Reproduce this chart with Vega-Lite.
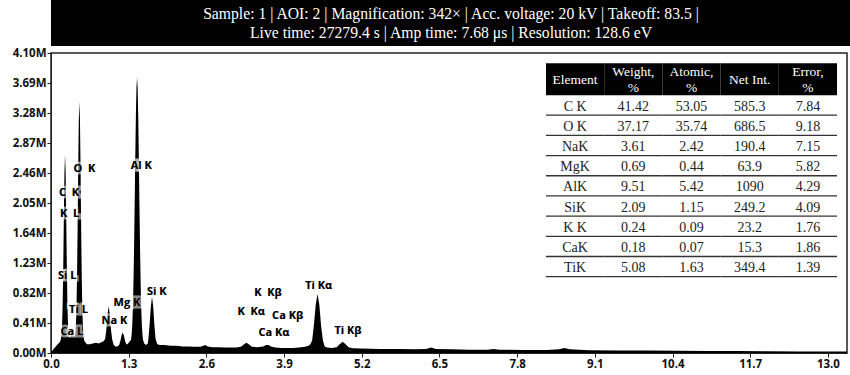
{
  "$schema": "https://vega.github.io/schema/vega-lite/v6.json",
  "padding": 0,
  "background": "white",
  "bounds": "flush",
  "spacing": 7,
  "config": {"view": {"stroke": null}},
  "datasets": {
    "header": [
      {"text": "Sample: 1 | AOI: 2 | Magnification: 342× | Acc. voltage: 20 kV | Takeoff: 83.5 |\nLive time: 27279.4 s | Amp time: 7.68 μs | Resolution: 128.6 eV"}
    ],
    "spectrum": [
      {"e": 0.00, "c": 0.00}, {"e": 0.02, "c": 0.03}, {"e": 0.05, "c": 0.06}, {"e": 0.08, "c": 0.09},
      {"e": 0.11, "c": 0.12}, {"e": 0.14, "c": 0.14}, {"e": 0.16, "c": 0.17}, {"e": 0.175, "c": 0.24},
      {"e": 0.185, "c": 0.37}, {"e": 0.195, "c": 0.66}, {"e": 0.205, "c": 1.18}, {"e": 0.215, "c": 1.85},
      {"e": 0.225, "c": 2.47}, {"e": 0.235, "c": 2.71}, {"e": 0.245, "c": 2.47}, {"e": 0.255, "c": 1.85},
      {"e": 0.265, "c": 1.18}, {"e": 0.275, "c": 0.66}, {"e": 0.285, "c": 0.37}, {"e": 0.295, "c": 0.26},
      {"e": 0.31, "c": 0.22}, {"e": 0.33, "c": 0.22}, {"e": 0.35, "c": 0.25}, {"e": 0.37, "c": 0.22},
      {"e": 0.39, "c": 0.23}, {"e": 0.405, "c": 0.25}, {"e": 0.415, "c": 0.34}, {"e": 0.425, "c": 0.57},
      {"e": 0.435, "c": 1.01}, {"e": 0.445, "c": 1.68}, {"e": 0.455, "c": 2.49}, {"e": 0.465, "c": 3.17},
      {"e": 0.475, "c": 3.44}, {"e": 0.485, "c": 3.17}, {"e": 0.495, "c": 2.49}, {"e": 0.505, "c": 1.68},
      {"e": 0.515, "c": 1.01}, {"e": 0.525, "c": 0.57}, {"e": 0.535, "c": 0.34}, {"e": 0.545, "c": 0.22},
      {"e": 0.56, "c": 0.16}, {"e": 0.60, "c": 0.12}, {"e": 0.65, "c": 0.12}, {"e": 0.70, "c": 0.13},
      {"e": 0.75, "c": 0.14}, {"e": 0.80, "c": 0.13}, {"e": 0.85, "c": 0.15}, {"e": 0.88, "c": 0.16},
      {"e": 0.905, "c": 0.19}, {"e": 0.925, "c": 0.31}, {"e": 0.945, "c": 0.52}, {"e": 0.965, "c": 0.64},
      {"e": 0.985, "c": 0.52}, {"e": 1.005, "c": 0.31}, {"e": 1.025, "c": 0.18}, {"e": 1.05, "c": 0.11},
      {"e": 1.08, "c": 0.09}, {"e": 1.11, "c": 0.09}, {"e": 1.14, "c": 0.11}, {"e": 1.16, "c": 0.16},
      {"e": 1.18, "c": 0.24}, {"e": 1.20, "c": 0.28}, {"e": 1.22, "c": 0.24}, {"e": 1.24, "c": 0.16},
      {"e": 1.26, "c": 0.12}, {"e": 1.28, "c": 0.12}, {"e": 1.30, "c": 0.14}, {"e": 1.34, "c": 0.18},
      {"e": 1.35, "c": 0.26}, {"e": 1.36, "c": 0.39}, {"e": 1.37, "c": 0.61}, {"e": 1.38, "c": 0.96},
      {"e": 1.39, "c": 1.44}, {"e": 1.40, "c": 2.02}, {"e": 1.41, "c": 2.65}, {"e": 1.42, "c": 3.22},
      {"e": 1.43, "c": 3.62}, {"e": 1.44, "c": 3.77}, {"e": 1.45, "c": 3.62}, {"e": 1.46, "c": 3.22},
      {"e": 1.47, "c": 2.65}, {"e": 1.48, "c": 2.02}, {"e": 1.49, "c": 1.44}, {"e": 1.50, "c": 0.96},
      {"e": 1.51, "c": 0.61}, {"e": 1.52, "c": 0.39}, {"e": 1.53, "c": 0.26}, {"e": 1.54, "c": 0.18},
      {"e": 1.56, "c": 0.13}, {"e": 1.59, "c": 0.11}, {"e": 1.62, "c": 0.13}, {"e": 1.63, "c": 0.19},
      {"e": 1.65, "c": 0.39}, {"e": 1.67, "c": 0.63}, {"e": 1.69, "c": 0.77}, {"e": 1.71, "c": 0.64},
      {"e": 1.73, "c": 0.38}, {"e": 1.75, "c": 0.19}, {"e": 1.78, "c": 0.12}, {"e": 1.82, "c": 0.11},
      {"e": 1.90, "c": 0.11}, {"e": 2.00, "c": 0.10}, {"e": 2.10, "c": 0.10}, {"e": 2.20, "c": 0.09},
      {"e": 2.30, "c": 0.09}, {"e": 2.40, "c": 0.085}, {"e": 2.50, "c": 0.085}, {"e": 2.55, "c": 0.10},
      {"e": 2.58, "c": 0.11}, {"e": 2.62, "c": 0.09}, {"e": 2.70, "c": 0.08}, {"e": 2.80, "c": 0.08},
      {"e": 2.90, "c": 0.075}, {"e": 3.00, "c": 0.075}, {"e": 3.10, "c": 0.075}, {"e": 3.18, "c": 0.085},
      {"e": 3.23, "c": 0.12}, {"e": 3.27, "c": 0.14}, {"e": 3.31, "c": 0.12}, {"e": 3.36, "c": 0.085},
      {"e": 3.45, "c": 0.08}, {"e": 3.55, "c": 0.09}, {"e": 3.60, "c": 0.11}, {"e": 3.64, "c": 0.11},
      {"e": 3.68, "c": 0.09}, {"e": 3.75, "c": 0.075}, {"e": 3.85, "c": 0.07}, {"e": 3.95, "c": 0.07},
      {"e": 4.05, "c": 0.07}, {"e": 4.15, "c": 0.075}, {"e": 4.25, "c": 0.085}, {"e": 4.31, "c": 0.10},
      {"e": 4.34, "c": 0.12}, {"e": 4.37, "c": 0.17}, {"e": 4.40, "c": 0.39}, {"e": 4.43, "c": 0.66},
      {"e": 4.46, "c": 0.81}, {"e": 4.49, "c": 0.66}, {"e": 4.52, "c": 0.37}, {"e": 4.55, "c": 0.17},
      {"e": 4.58, "c": 0.09}, {"e": 4.62, "c": 0.075}, {"e": 4.70, "c": 0.07}, {"e": 4.78, "c": 0.08},
      {"e": 4.83, "c": 0.12}, {"e": 4.88, "c": 0.155}, {"e": 4.93, "c": 0.12}, {"e": 4.98, "c": 0.08},
      {"e": 5.05, "c": 0.065}, {"e": 5.20, "c": 0.06}, {"e": 5.50, "c": 0.055}, {"e": 5.80, "c": 0.055},
      {"e": 6.10, "c": 0.05}, {"e": 6.28, "c": 0.055}, {"e": 6.36, "c": 0.075}, {"e": 6.44, "c": 0.055},
      {"e": 6.70, "c": 0.05}, {"e": 7.00, "c": 0.045}, {"e": 7.30, "c": 0.045}, {"e": 7.41, "c": 0.055},
      {"e": 7.50, "c": 0.045}, {"e": 7.90, "c": 0.042}, {"e": 8.30, "c": 0.04}, {"e": 8.50, "c": 0.05},
      {"e": 8.59, "c": 0.07}, {"e": 8.68, "c": 0.05}, {"e": 9.00, "c": 0.038}, {"e": 9.50, "c": 0.035},
      {"e": 10.0, "c": 0.033}, {"e": 10.5, "c": 0.03}, {"e": 11.0, "c": 0.028}, {"e": 11.5, "c": 0.026},
      {"e": 12.0, "c": 0.024}, {"e": 12.5, "c": 0.022}, {"e": 13.0, "c": 0.02}, {"e": 13.32, "c": 0.02}
    ],
    "labels": [
      {"label": "O \u00a0K", "e": 0.56, "c": 2.52},
      {"label": "C \u00a0K", "e": 0.30, "c": 2.18},
      {"label": "K \u00a0L", "e": 0.31, "c": 1.90},
      {"label": "Si L", "e": 0.27, "c": 1.05},
      {"label": "Ti L", "e": 0.46, "c": 0.59},
      {"label": "Ca L", "e": 0.35, "c": 0.29},
      {"label": "Na K", "e": 1.06, "c": 0.44},
      {"label": "Mg K", "e": 1.27, "c": 0.68},
      {"label": "Al K", "e": 1.51, "c": 2.56},
      {"label": "Si K", "e": 1.77, "c": 0.83},
      {"label": "K \u00a0Kβ", "e": 3.63, "c": 0.82},
      {"label": "K \u00a0Kα", "e": 3.35, "c": 0.56},
      {"label": "Ca Kβ", "e": 3.96, "c": 0.51},
      {"label": "Ca Kα", "e": 3.73, "c": 0.28},
      {"label": "Ti Kα", "e": 4.48, "c": 0.91},
      {"label": "Ti Kβ", "e": 4.97, "c": 0.30}
    ],
    "tableHeader": [
      {"col": "Element", "row": "hdr", "label": "Element", "lines": 1},
      {"col": "Weight", "row": "hdr", "label": "Weight,\n%", "lines": 2},
      {"col": "Atomic", "row": "hdr", "label": "Atomic,\n%", "lines": 2},
      {"col": "NetInt", "row": "hdr", "label": "Net Int.", "lines": 1},
      {"col": "Error", "row": "hdr", "label": "Error,\n%", "lines": 2}
    ],
    "table": [
      {"Element": "C K", "Weight": "41.42", "Atomic": "53.05", "NetInt": "585.3", "Error": "7.84"},
      {"Element": "O K", "Weight": "37.17", "Atomic": "35.74", "NetInt": "686.5", "Error": "9.18"},
      {"Element": "NaK", "Weight": "3.61", "Atomic": "2.42", "NetInt": "190.4", "Error": "7.15"},
      {"Element": "MgK", "Weight": "0.69", "Atomic": "0.44", "NetInt": "63.9", "Error": "5.82"},
      {"Element": "AlK", "Weight": "9.51", "Atomic": "5.42", "NetInt": "1090", "Error": "4.29"},
      {"Element": "SiK", "Weight": "2.09", "Atomic": "1.15", "NetInt": "249.2", "Error": "4.09"},
      {"Element": "K K", "Weight": "0.24", "Atomic": "0.09", "NetInt": "23.2", "Error": "1.76"},
      {"Element": "CaK", "Weight": "0.18", "Atomic": "0.07", "NetInt": "15.3", "Error": "1.86"},
      {"Element": "TiK", "Weight": "5.08", "Atomic": "1.63", "NetInt": "349.4", "Error": "1.39"}
    ]
  },
  "vconcat": [
    {
      "width": 800,
      "height": 46,
      "view": {"fill": "black", "stroke": null},
      "data": {"name": "header"},
      "mark": {"type": "text", "color": "white", "font": "Liberation Serif", "fontSize": 15.7, "lineBreak": "\n", "lineHeight": 19, "baseline": "middle", "align": "center", "dy": -9},
      "encoding": {"text": {"field": "text", "type": "nominal"}}
    },
    {
      "width": 796,
      "height": 300,
      "view": {"stroke": "#222", "strokeWidth": 1.5},
      "layer": [
        {
          "layer": [
            {
              "data": {"name": "spectrum"},
              "mark": {"type": "area", "color": "black", "interpolate": "linear"},
              "encoding": {
                "x": {"field": "e", "type": "quantitative",
                  "scale": {"domain": [0, 13.32], "nice": false, "zero": false},
                  "axis": {"title": null, "values": [0, 1.3, 2.6, 3.9, 5.2, 6.5, 7.8, 9.1, 10.4, 11.7, 13.0], "tickCount": 20, "format": ".1f", "grid": false, "tickSize": 4, "tickColor": "#222", "domainColor": "#222", "labelFont": "Open Sans", "labelFontWeight": "bold", "labelFontSize": 11.5, "labelColor": "#111", "labelPadding": 1, "labelOverlap": false, "labelFlush": false}},
                "y": {"field": "c", "type": "quantitative",
                  "scale": {"domain": [0, 4.1], "nice": false},
                  "axis": {"title": null, "values": [0, 0.41, 0.82, 1.23, 1.64, 2.05, 2.46, 2.87, 3.28, 3.69, 4.1], "tickCount": 20, "labelExpr": "format(datum.value, '.2f') + 'M'", "grid": false, "tickSize": 4, "tickColor": "#222", "domainColor": "#222", "labelFont": "Open Sans", "labelFontWeight": "bold", "labelFontSize": 11.5, "labelColor": "#111", "labelPadding": 1, "minExtent": 50, "labelOverlap": false, "labelFlush": false}}
              }
            },
            {
              "data": {"name": "labels"},
              "mark": {"type": "text", "font": "Open Sans", "fontWeight": "bold", "fontSize": 11, "color": "black", "stroke": "white", "strokeWidth": 5, "strokeOpacity": 0.55, "baseline": "middle", "align": "center"},
              "encoding": {
                "x": {"field": "e", "type": "quantitative"},
                "y": {"field": "c", "type": "quantitative"},
                "text": {"field": "label", "type": "nominal"}
              }
            },
            {
              "data": {"name": "labels"},
              "mark": {"type": "text", "font": "Open Sans", "fontWeight": "bold", "fontSize": 11, "color": "black", "baseline": "middle", "align": "center"},
              "encoding": {
                "x": {"field": "e", "type": "quantitative"},
                "y": {"field": "c", "type": "quantitative"},
                "text": {"field": "label", "type": "nominal"}
              }
            }
          ]
        },
        {
          "layer": [
            {
              "data": {"name": "tableHeader"},
              "mark": {"type": "rect", "color": "black", "height": 32, "yOffset": -5.7},
              "encoding": {
                "x": {"field": "col", "type": "nominal", "axis": null,
                  "scale": {"domain": ["Element", "Weight", "Atomic", "NetInt", "Error"], "range": [495, 786], "paddingInner": 0, "paddingOuter": 0}},
                "y": {"field": "row", "type": "nominal", "axis": null,
                  "scale": {"domain": ["hdr", "C K", "O K", "NaK", "MgK", "AlK", "SiK", "K K", "CaK", "TiK"], "range": [21.8, 223.7], "paddingInner": 0, "paddingOuter": 0}}
              }
            },
            {
              "data": {"name": "tableHeader"},
              "transform": [{"filter": "datum.lines == 1"}],
              "mark": {"type": "text", "color": "white", "font": "Liberation Serif", "fontSize": 13.5, "baseline": "middle", "align": "center", "yOffset": -4.9},
              "encoding": {
                "x": {"field": "col", "type": "nominal", "axis": null},
                "y": {"field": "row", "type": "nominal", "axis": null},
                "text": {"field": "label", "type": "nominal"}
              }
            },
            {
              "data": {"name": "tableHeader"},
              "transform": [{"filter": "datum.lines == 2"}],
              "mark": {"type": "text", "color": "white", "font": "Liberation Serif", "fontSize": 13.5, "lineBreak": "\n", "lineHeight": 16, "baseline": "middle", "align": "center", "yOffset": -12.9},
              "encoding": {
                "x": {"field": "col", "type": "nominal", "axis": null},
                "y": {"field": "row", "type": "nominal", "axis": null},
                "text": {"field": "label", "type": "nominal"}
              }
            },
            {
              "data": {"name": "table"},
              "transform": [{"fold": ["Element", "Weight", "Atomic", "NetInt", "Error"], "as": ["col", "val"]}],
              "mark": {"type": "rect", "color": "#333", "height": 1.3, "yOffset": 10.1},
              "encoding": {
                "x": {"field": "col", "type": "nominal", "axis": null},
                "y": {"field": "Element", "type": "nominal", "axis": null}
              }
            },
            {
              "data": {"name": "table"},
              "transform": [{"fold": ["Element", "Weight", "Atomic", "NetInt", "Error"], "as": ["col", "val"]}],
              "mark": {"type": "text", "color": "#222", "font": "Liberation Serif", "fontSize": 14, "baseline": "middle", "align": "center", "yOffset": 1.5},
              "encoding": {
                "x": {"field": "col", "type": "nominal", "axis": null},
                "y": {"field": "Element", "type": "nominal", "axis": null},
                "text": {"field": "val", "type": "nominal"}
              }
            }
          ]
        }
      ],
      "resolve": {"scale": {"x": "independent", "y": "independent"}, "axis": {"x": "independent", "y": "independent"}}
    }
  ]
}
